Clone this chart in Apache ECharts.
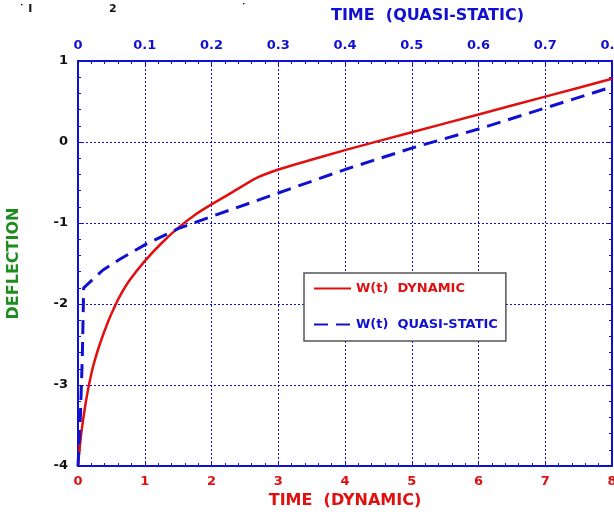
<!DOCTYPE html>
<html><head><meta charset="utf-8">
<script src="https://cdn.jsdelivr.net/npm/echarts@6/dist/echarts.min.js"></script>
<style>html,body{margin:0;padding:0;background:#fff}#c{width:614px;height:514px}</style>
</head><body><div id="c"></div>
<script>
const dynamicT = [0, 0.02, 0.05, 0.1, 0.15, 0.2, 0.25, 0.325, 0.45, 0.55, 0.65, 0.77, 1.0, 1.25, 1.5, 1.75, 2.0, 2.27, 2.67, 3.0, 3.2, 4.0, 5.0, 6.0, 7.0, 8.0];
const dynamicW = [-4, -3.82, -3.59, -3.3, -3.06, -2.86, -2.7, -2.5, -2.22, -2.03, -1.87, -1.71, -1.47, -1.25, -1.06, -0.9, -0.77, -0.64, -0.445, -0.34, -0.29, -0.1, 0.12, 0.34, 0.56, 0.78];
const quasiT = [0, 0.035, 0.065, 0.085, 0.375, 0.62, 1.0, 1.5, 2.0, 3.0, 4.0, 5.0, 6.0, 7.0, 8.0];
const quasiW = [-4, -3.4, -2.65, -1.8, -1.58, -1.45, -1.27, -1.07, -0.92, -0.63, -0.34, -0.075, 0.16, 0.42, 0.68];
const bottomTicks = {min: 0, max: 8, interval: 1};
const topTicks = {min: 0, max: 0.8, interval: 0.1};
const yTicks = {min: -4, max: 1, interval: 1};
const seriesNames = ['W(t)  DYNAMIC', 'W(t)  QUASI-STATIC'];
const axisTitles = {bottom: 'TIME  (DYNAMIC)', top: 'TIME  (QUASI-STATIC)', left: 'DEFLECTION'};

const RED = '#e01010', BLUE = '#1010d0', GREEN = '#1e8c1e';
const FONT = 'DejaVu Sans';
const gridLine = {show: true, lineStyle: {color: BLUE, type: [2, 2], width: 1}};
const axisLine = {show: true, onZero: false, lineStyle: {color: BLUE, width: 2}};
const tick = {show: true, inside: true, length: 5, lineStyle: {color: BLUE, width: 1}};
const minor = {show: true, splitNumber: 5, length: 3, lineStyle: {color: BLUE, width: 1}};

const chart = echarts.init(document.getElementById('c'), null, {renderer: 'canvas'});
chart.setOption({
  animation: false,
  backgroundColor: '#fff',
  grid: {left: 78, right: 2, top: 61, bottom: 48, containLabel: false, outerBoundsMode: 'none'},
  xAxis: [
    {type: 'value', position: 'bottom', min: bottomTicks.min, max: bottomTicks.max, interval: bottomTicks.interval,
     axisLine, axisTick: tick, minorTick: minor, splitLine: gridLine, minorSplitLine: {show: false},
     axisLabel: {color: RED, fontFamily: FONT, fontWeight: 'bold', fontSize: 13, margin: 9, hideOverlap: false},
     name: axisTitles.bottom, nameLocation: 'middle', nameGap: 24,
     nameTextStyle: {color: RED, fontFamily: FONT, fontWeight: 'bold', fontSize: 16}},
    {type: 'value', position: 'top', min: topTicks.min, max: topTicks.max, interval: topTicks.interval,
     axisLine, axisTick: tick, minorTick: minor, splitLine: {show: false},
     axisLabel: {color: BLUE, fontFamily: FONT, fontWeight: 'bold', fontSize: 13, margin: 9, hideOverlap: false,
                 formatter: v => String(+v.toFixed(1))}}
  ],
  yAxis: [
    {type: 'value', position: 'left', min: yTicks.min, max: yTicks.max, interval: yTicks.interval,
     axisLine, axisTick: tick, minorTick: minor, splitLine: gridLine,
     axisLabel: {color: '#111', fontFamily: FONT, fontWeight: 'bold', fontSize: 13, margin: 10},
     name: axisTitles.left, nameLocation: 'middle', nameGap: 56, nameRotate: 90,
     nameTextStyle: {color: GREEN, fontFamily: FONT, fontWeight: 'bold', fontSize: 16}},
    {type: 'value', position: 'right', min: yTicks.min, max: yTicks.max, interval: yTicks.interval,
     axisLine, axisTick: tick, minorTick: minor, splitLine: {show: false}, axisLabel: {show: false}}
  ],
  legend: {
    orient: 'vertical', left: 304, top: 273,
    backgroundColor: '#fff', borderColor: '#555', borderWidth: 1.5,
    padding: [9, 8, 10, 9], itemWidth: 37, itemHeight: 14, itemGap: 23,
    textStyle: {fontFamily: FONT, fontWeight: 'bold', fontSize: 13},
    data: [
      {name: seriesNames[0], textStyle: {color: RED}, itemStyle: {opacity: 0}},
      {name: seriesNames[1], textStyle: {color: BLUE}, itemStyle: {opacity: 0}}
    ]
  },
  series: [
    {name: seriesNames[0], type: 'line', xAxisIndex: 0, yAxisIndex: 0, symbol: 'none', smooth: 0.25,
     lineStyle: {color: RED, width: 2.5}, itemStyle: {color: RED},
     data: dynamicT.map((t, i) => [t, dynamicW[i]])},
    {name: seriesNames[1], type: 'line', xAxisIndex: 0, yAxisIndex: 0, symbol: 'none',
     lineStyle: {color: BLUE, width: 3, type: [14, 8]}, itemStyle: {color: BLUE},
     data: quasiT.map((t, i) => [t, quasiW[i]])}
  ],
  graphic: [
    {type: 'text', left: 331, top: 8, style: {text: axisTitles.top, fill: BLUE, font: 'bold 16px "DejaVu Sans"'}},
    {type: 'text', left: 19, top: 4, style: {text: '\u02d9 I', fill: '#111', font: 'bold 11px "DejaVu Sans"'}},
    {type: 'text', left: 109, top: 4, style: {text: '2', fill: '#111', font: 'bold 11px "DejaVu Sans"'}},
    {type: 'text', left: 241, top: 3, style: {text: '\u02d9', fill: '#111', font: 'bold 11px "DejaVu Sans"'}}
  ]
});
</script></body></html>
